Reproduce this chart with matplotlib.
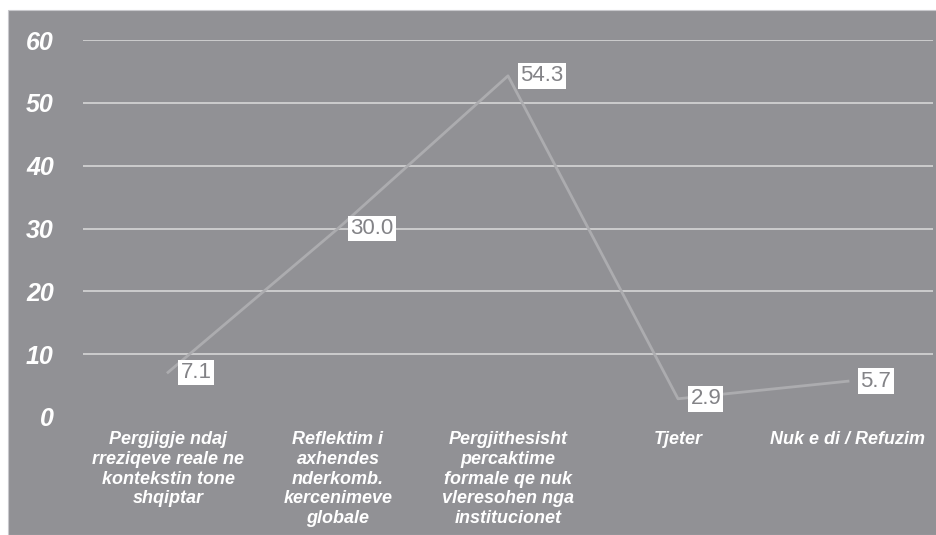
import matplotlib.pyplot as plt
from matplotlib.patches import Rectangle

categories = ["Pergjigje ndaj\nrreziqeve reale ne\nkontekstin tone\nshqiptar",
              "Reflektim i\naxhendes\nnderkomb.\nkercenimeve\nglobale",
              "Pergjithesisht\npercaktime\nformale qe nuk\nvleresohen nga\ninstitucionet",
              "Tjeter",
              "Nuk e di / Refuzim"]
values = [7.1, 30.0, 54.3, 2.9, 5.7]
yticks = [0, 10, 20, 30, 40, 50, 60]

bg = '#919195'
W, H = 937, 535

plt.rcParams['font.family'] = ['Liberation Sans', 'DejaVu Sans']
fig = plt.figure(figsize=(W / 100, H / 100), dpi=100, facecolor='white')
# grey panel behind everything, leaving a thin white border top/left
fig.patches.append(Rectangle((8 / W, 0), 1 - 8 / W, 1 - 10 / H, transform=fig.transFigure,
                             facecolor=bg, edgecolor='#c8c8cc', linewidth=0.8, zorder=-5))

ax = fig.add_axes([83 / W, (H - 417) / H, 850 / W, 377 / H])
ax.set_zorder(2)
ax.patch.set_alpha(0)

x = list(range(len(values)))
ax.plot(x, values, color='#acacaf', linewidth=2.0, zorder=3)

for xi, v in zip(x, values):
    ax.annotate(f"{v:.1f}", (xi, v), xytext=(9, 0), textcoords='offset points',
                ha='left', va='center', fontsize=16, color='#838387', zorder=5,
                bbox=dict(boxstyle='square,pad=0.1', facecolor='white', edgecolor='none'))

ax.set_xlim(-0.5, len(values) - 0.5)
ax.set_ylim(0, 60)
ax.set_yticks(yticks)
ax.set_yticklabels([str(t) for t in yticks], color='white', fontsize=18,
                   fontweight='bold', fontstyle='italic')
ax.tick_params(axis='y', length=0, pad=21)
ax.set_xticks(x)
ax.set_xticklabels(categories, color='white', fontsize=13, fontweight='bold',
                   fontstyle='italic', linespacing=1.22, va='top')
ax.tick_params(axis='x', length=0, pad=10)

ax.yaxis.grid(True, color='#dcdcdc', linewidth=1.1)
ax.get_ygridlines()[0].set_visible(False)
ax.set_axisbelow(True)
for s in ax.spines.values():
    s.set_visible(False)

fig.savefig('out.png', dpi=100, facecolor=fig.get_facecolor())
